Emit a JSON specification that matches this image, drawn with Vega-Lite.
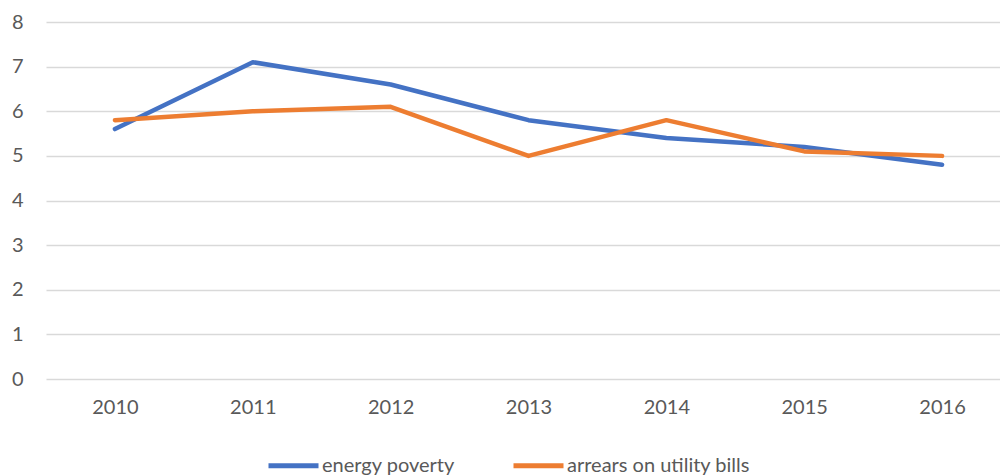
{
  "$schema": "https://vega.github.io/schema/vega-lite/v6.json",
  "width": 1000,
  "height": 475,
  "autosize": {"type": "fit", "contains": "padding"},
  "padding": {"left": 11, "top": 12, "right": -11, "bottom": 58},
  "background": "white",
  "config": {
    "font": "Lato",
    "view": {"stroke": null}
  },
  "data": {
    "values": [
      {"year": "2010", "series": "energy poverty", "value": 5.6},
      {"year": "2011", "series": "energy poverty", "value": 7.1},
      {"year": "2012", "series": "energy poverty", "value": 6.6},
      {"year": "2013", "series": "energy poverty", "value": 5.8},
      {"year": "2014", "series": "energy poverty", "value": 5.4},
      {"year": "2015", "series": "energy poverty", "value": 5.2},
      {"year": "2016", "series": "energy poverty", "value": 4.8},
      {"year": "2010", "series": "arrears on utility bills", "value": 5.8},
      {"year": "2011", "series": "arrears on utility bills", "value": 6.0},
      {"year": "2012", "series": "arrears on utility bills", "value": 6.1},
      {"year": "2013", "series": "arrears on utility bills", "value": 5.0},
      {"year": "2014", "series": "arrears on utility bills", "value": 5.8},
      {"year": "2015", "series": "arrears on utility bills", "value": 5.1},
      {"year": "2016", "series": "arrears on utility bills", "value": 5.0}
    ]
  },
  "mark": {"type": "line", "strokeWidth": 4.5, "strokeCap": "round", "strokeJoin": "round"},
  "encoding": {
    "x": {
      "field": "year",
      "type": "ordinal",
      "scale": {"type": "point", "padding": 0.5},
      "axis": {
        "title": null,
        "labelAngle": 0,
        "labelFontSize": 20,
        "labelColor": "#595959",
        "labelPadding": 18,
        "ticks": false,
        "domain": false,
        "grid": false
      }
    },
    "y": {
      "field": "value",
      "type": "quantitative",
      "scale": {"domain": [0, 8]},
      "axis": {
        "title": null,
        "values": [0, 1, 2, 3, 4, 5, 6, 7, 8],
        "labelFontSize": 20,
        "labelColor": "#595959",
        "labelPadding": 23,
        "ticks": false,
        "domain": false,
        "grid": true,
        "gridColor": "#D9D9D9",
        "gridWidth": 1.5
      }
    },
    "color": {
      "field": "series",
      "type": "nominal",
      "sort": ["energy poverty", "arrears on utility bills"],
      "scale": {"domain": ["energy poverty", "arrears on utility bills"], "range": ["#4472C4", "#ED7D31"]},
      "legend": {
        "title": null,
        "orient": "none",
        "legendX": 220,
        "legendY": 416,
        "padding": 0,
        "direction": "horizontal",
        "symbolType": "stroke",
        "symbolSize": 2500,
        "symbolStrokeWidth": 5,
        "labelFontSize": 20,
        "labelLimit": 500,
        "labelColor": "#595959",
        "labelOffset": 1,
        "columnPadding": 48
      }
    }
  }
}
